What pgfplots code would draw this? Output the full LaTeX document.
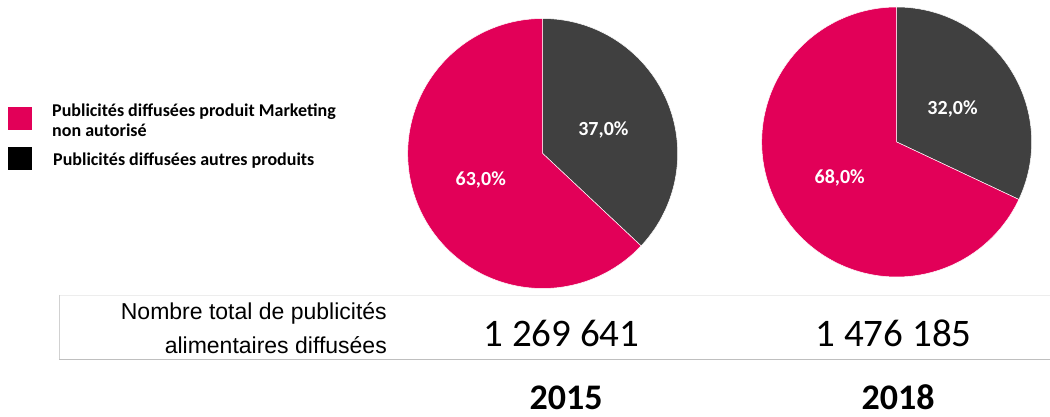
\documentclass[border=0pt]{standalone}
\usepackage{pgfplots}
\pgfplotsset{compat=1.18}
\usepackage{pgfplotstable}
\usepackage{fontspec}
\setmainfont{Carlito}
\newfontfamily\arialfont{Liberation Sans}
\definecolor{pinkm}{RGB}{226,0,88}
\definecolor{darkg}{RGB}{64,64,64}

\pgfplotstableread{
year autres marketing
2015 37.0 63.0
2018 32.0 68.0
}\piedata

\newcommand\getval[3]{\pgfplotstablegetelem{#1}{#2}\of\piedata\let#3\pgfplotsretval}

% #1 row, #2 cx, #3 cy, #4 label autres, #5 label marketing
\newcommand\drawpie[5]{%
\getval{#1}{autres}\va
\getval{#1}{marketing}\vb
\pgfmathsetmacro\aend{90-3.6*\va}%
\pgfmathsetmacro\bend{\aend-3.6*\vb}%
\pgfmathsetmacro\amid{(90+\aend)/2}%
\pgfmathsetmacro\bmid{(\aend+\bend)/2}%
\begin{axis}[hide axis, scale only axis, width=270pt, height=270pt,
  xmin=-1, xmax=1, ymin=-1, ymax=1, at={(#2pt,#3pt)}, anchor=center, clip=false]
\addplot[fill=darkg, draw=white, line width=0.5pt, domain=\aend:90, samples=120, variable=\t]
  ({cos(\t)},{sin(\t)}) -- (axis cs:0,0) -- cycle;
\addplot[fill=pinkm, draw=white, line width=0.5pt, domain=\bend:\aend, samples=200, variable=\t]
  ({cos(\t)},{sin(\t)}) -- (axis cs:0,0) -- cycle;
\node[text=white, font=\bfseries\fontsize{20}{20}\selectfont] at (axis cs:{0.49*cos(\amid)},{0.49*sin(\amid)-0.02}) {#4};
\node[text=white, font=\bfseries\fontsize{20}{20}\selectfont] at (axis cs:{0.5*cos(\bmid)},{0.5*sin(\bmid)}) {#5};
\end{axis}}

\begin{document}
\begin{tikzpicture}[x=1pt,y=1pt]
\path[use as bounding box] (0,0) rectangle (1050,417);

\drawpie{0}{542.7}{263.5}{37,0\%}{63,0\%}
\drawpie{1}{896.7}{275}{32,0\%}{68,0\%}

% legend
\fill[pinkm] (8,287) rectangle (32,310);
\fill[black] (8,247) rectangle (32,270);
\node[anchor=base west, inner sep=0pt, font=\bfseries\fontsize{18}{18}\selectfont] at (52,300.5) {Publicités diffusées produit Marketing};
\node[anchor=base west, inner sep=0pt, font=\bfseries\fontsize{18}{18}\selectfont] at (52,280) {non autorisé};
\node[anchor=base west, inner sep=0pt, font=\bfseries\fontsize{18}{18}\selectfont] at (53,251) {Publicités diffusées autres produits};

% box
\draw[color=black!7, line width=0.8pt] (59,122) -- (1050,122);
\draw[color=black!18, line width=0.8pt] (59,122) -- (59,58);
\draw[color=black!25, line width=0.8pt] (59,58) -- (1050,58);

\node[anchor=base east, inner sep=0pt, font=\arialfont\fontsize{23}{23}\selectfont] at (387,97.7) {Nombre total de publicités};
\node[anchor=base east, inner sep=0pt, font=\arialfont\fontsize{23}{23}\selectfont] at (387,63.7) {alimentaires diffusées};

\node[anchor=base, inner sep=0pt, font=\fontsize{39}{39}\selectfont] at (561.5,70.3) {1 269 641};
\node[anchor=base, inner sep=0pt, font=\fontsize{39}{39}\selectfont] at (893.5,70.3) {1 476 185};

\node[anchor=base, inner sep=0pt, font=\bfseries\fontsize{36}{36}\selectfont] at (566,7) {2015};
\node[anchor=base, inner sep=0pt, font=\bfseries\fontsize{36}{36}\selectfont] at (898,7) {2018};
\end{tikzpicture}
\end{document}
